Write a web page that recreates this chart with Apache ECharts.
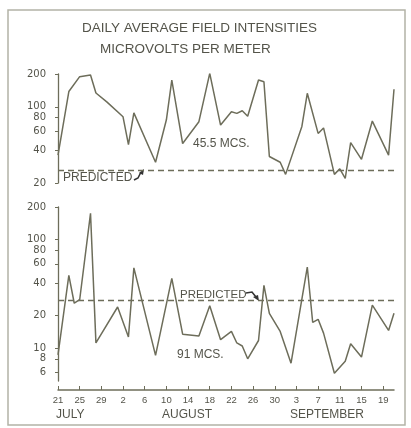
<!DOCTYPE html>
<html><head><meta charset="utf-8">
<script src="https://cdn.jsdelivr.net/npm/echarts@6.0.0/dist/echarts.min.js"></script>
<style>html,body{margin:0;padding:0;background:#fff}#c{width:411px;height:428px}</style>
</head><body><div id="c"></div>
<script>
// ---- data (day index counted from July 21) ----
const dayTickLabels = ['21','25','29','2','6','10','14','18','22','26','30','3','7','11','15','19'];
const tickDays = [0,4,8,12,16,20,24,28,32,36,40,44,48,52,56,60];
const monthLabels = ['JULY','AUGUST','SEPTEMBER'];
const topYTicks = [20,40,60,80,100,200];
const botYTicks = [6,8,10,20,40,60,80,100,200];

const topDays   = [0,2,4,6,7,9,12,13,14,18,20,21,23,26,28,30,32,33,34,35,37,38,39,41,42,45,46,48,49,51,52,53,54,56,58,61,62];
const topValues = [36,138,189,196,134,111,81,45,88,31,76,176,46,73,203,68,90,87,92,82,176,170,35,31,24,66,133,57,64,24,27,22,47,33,74,36,145];

const botDays   = [0,2,3,4,6,7,11,13,14,18,21,23,26,28,30,32,33,34,35,37,38,39,41,43,46,47,48,49,51,53,54,56,58,61,62];
const botValues = [8.7,47,26,28,175,11.2,24,12.7,55,8.6,44,13.5,13,24.7,12,14.3,11.2,10.5,8,11.8,38,21,14.3,7.3,56,17.3,18.5,13.8,5.9,7.6,11,8.3,25,14.6,21];

const topPredicted = 26;
const botPredicted = 27.5;
const topName = '45.5 MCS.';
const botName = '91 MCS.';
const titleLines = ['DAILY AVERAGE FIELD INTENSITIES','MICROVOLTS PER METER'];

const ink = '#54544a';
const lineCol = '#6d6d5a';
const pair = (d, v) => d.map((x, i) => [x, v[i]]);

function yAxisOf(grid, min, max, ticks) {
  return {
    gridIndex: grid, type: 'log', logBase: 10, min: min, max: max, offset: 10,
    axisLine: { show: true, lineStyle: { color: lineCol, width: 1.3 } },
    axisTick: { show: true, length: 3, customValues: ticks, lineStyle: { color: lineCol } },
    axisLabel: { customValues: ticks, color: ink, fontSize: 10, fontFamily: 'DejaVu Sans', margin: 2 },
    minorTick: { show: false }, splitLine: { show: false }
  };
}
function series(grid, data, pred) {
  return {
    type: 'line', xAxisIndex: grid, yAxisIndex: grid, data: data,
    symbol: 'none', lineStyle: { color: lineCol, width: 1.5 },
    markLine: {
      silent: true, symbol: 'none', label: { show: false },
      lineStyle: { type: [6, 4], color: lineCol, width: 1.3 },
      data: [{ yAxis: pred }]
    }
  };
}
const txt = (x, y, s, size, extra) => ({
  type: 'text', x: x, y: y,
  style: Object.assign({ text: s, fill: ink, fontSize: size, fontFamily: 'Liberation Sans', verticalAlign: 'middle' }, extra || {})
});

const chart = echarts.init(document.getElementById('c'));
chart.setOption({
  animation: false,
  backgroundColor: '#fff',
  grid: [
    { left: 58, top: 74, width: 336, height: 109 },
    { left: 58, top: 207, width: 336, height: 174 }
  ],
  xAxis: [
    { gridIndex: 0, type: 'value', min: 0, max: 62, show: false },
    { gridIndex: 1, type: 'value', min: 0, max: 62, offset: 9,
      axisLine: { lineStyle: { color: lineCol, width: 1.5 } },
      axisTick: { inside: true, length: 4, customValues: tickDays, lineStyle: { color: lineCol } },
      axisLabel: { customValues: tickDays, formatter: v => dayTickLabels[tickDays.indexOf(v)] || '',
                   color: ink, fontSize: 9.5, fontFamily: 'Liberation Sans', margin: 5 },
      splitLine: { show: false } }
  ],
  yAxis: [ yAxisOf(0, 20, 200, topYTicks), yAxisOf(1, 5, 200, botYTicks) ],
  series: [ series(0, pair(topDays, topValues), topPredicted), series(1, pair(botDays, botValues), botPredicted) ],
  graphic: [
    { type: 'rect', shape: { x: 8, y: 10, width: 397, height: 415 }, style: { fill: 'none', stroke: '#b3b3a6', lineWidth: 1.5 } },
    txt(82, 28, titleLines[0], 13.5),
    txt(100, 49, titleLines[1], 13.5),
    txt(193, 144, topName, 12),
    txt(177, 355, botName, 12),
    txt(63, 178, 'PREDICTED', 12),
    txt(180, 295, 'PREDICTED', 11.5),
    { type: 'polyline', shape: { points: [[134, 180], [138, 178], [141, 172]] }, style: { stroke: '#333', lineWidth: 1.6, fill: 'none' } },
    { type: 'polygon', shape: { points: [[139, 173], [144, 169], [143, 175]] }, style: { fill: '#333' } },
    { type: 'polyline', shape: { points: [[246, 293], [252, 292], [256, 297]] }, style: { stroke: '#333', lineWidth: 1.6, fill: 'none' } },
    { type: 'polygon', shape: { points: [[253, 297], [259, 301], [258, 295]] }, style: { fill: '#333' } },
    txt(56, 415, monthLabels[0], 12),
    txt(162, 415, monthLabels[1], 12),
    txt(290, 415, monthLabels[2], 12)
  ]
});
</script></body></html>
